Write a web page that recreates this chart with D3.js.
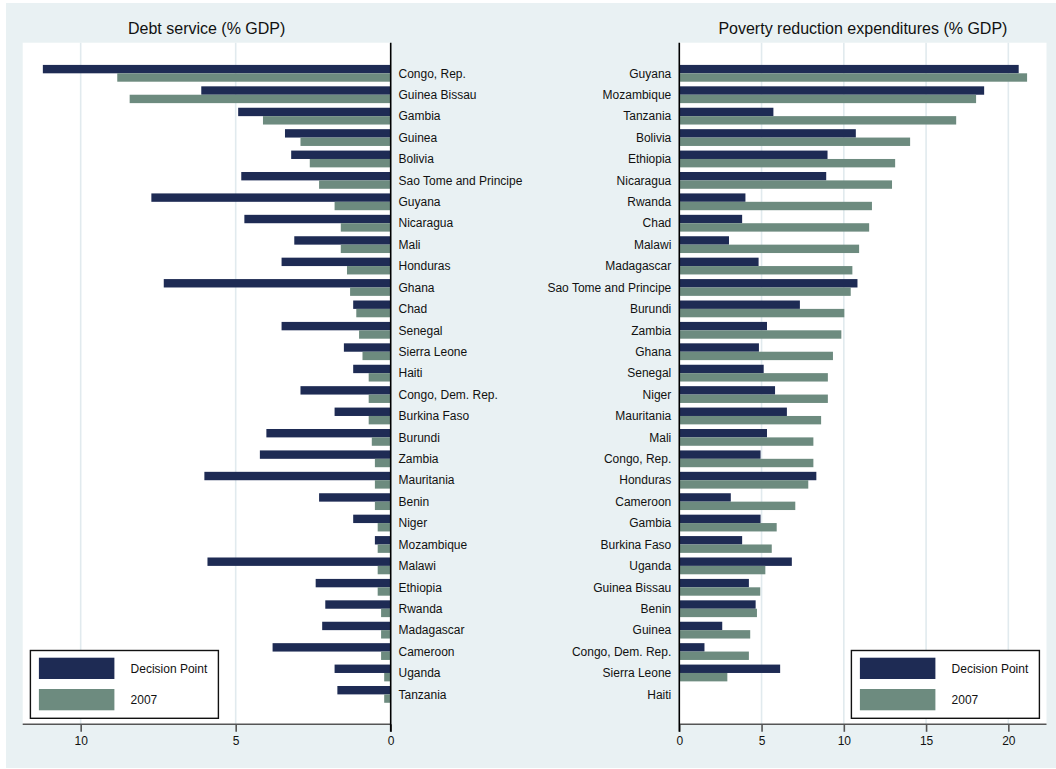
<!DOCTYPE html>
<html>
<head>
<meta charset="utf-8">
<script src="https://cdn.jsdelivr.net/npm/d3@7"></script>
<style>
  html, body { margin: 0; padding: 0; background: #ffffff; }
  svg { display: block; }
  text { font-family: "Liberation Sans", Arial, sans-serif; }
</style>
</head>
<body>
<svg id="chart" width="1056" height="769"></svg>
<script>
// ---------------- DATA ----------------
const seriesNames = ["Decision Point", "2007"];

const debtCountries = ["Congo, Rep.", "Guinea Bissau", "Gambia", "Guinea", "Bolivia",
  "Sao Tome and Principe", "Guyana", "Nicaragua", "Mali", "Honduras", "Ghana", "Chad",
  "Senegal", "Sierra Leone", "Haiti", "Congo, Dem. Rep.", "Burkina Faso", "Burundi",
  "Zambia", "Mauritania", "Benin", "Niger", "Mozambique", "Malawi", "Ethiopia", "Rwanda",
  "Madagascar", "Cameroon", "Uganda", "Tanzania"];
const debtDecision = [11.22, 6.11, 4.92, 3.41, 3.21, 4.82, 7.72, 4.72, 3.11, 3.52, 7.32, 1.21,
  3.52, 1.51, 1.21, 2.91, 1.81, 4.01, 4.22, 6.01, 2.31, 1.21, 0.51, 5.91, 2.42, 2.11,
  2.21, 3.81, 1.81, 1.72];
const debt2007 = [8.82, 8.42, 4.12, 2.91, 2.61, 2.31, 1.81, 1.61, 1.61, 1.41, 1.31, 1.11,
  1.02, 0.91, 0.71, 0.71, 0.71, 0.61, 0.51, 0.51, 0.51, 0.42, 0.42, 0.42, 0.42, 0.31,
  0.31, 0.31, 0.21, 0.21];

const prCountries = ["Guyana", "Mozambique", "Tanzania", "Bolivia", "Ethiopia", "Nicaragua",
  "Rwanda", "Chad", "Malawi", "Madagascar", "Sao Tome and Principe", "Burundi", "Zambia",
  "Ghana", "Senegal", "Niger", "Mauritania", "Mali", "Congo, Rep.", "Honduras", "Cameroon",
  "Gambia", "Burkina Faso", "Uganda", "Guinea Bissau", "Benin", "Guinea",
  "Congo, Dem. Rep.", "Sierra Leone", "Haiti"];
const prDecision = [20.63, 18.53, 5.72, 10.73, 9.01, 8.93, 4.02, 3.82, 3.02, 4.82, 10.83,
  7.33, 5.33, 4.84, 5.13, 5.82, 6.54, 5.33, 4.94, 8.33, 3.13, 4.94, 3.82, 6.84, 4.23,
  4.64, 2.61, 1.53, 6.13, null];
const pr2007 = [21.14, 18.04, 16.83, 14.03, 13.12, 12.93, 11.71, 11.54, 10.93, 10.52, 10.42,
  10.03, 9.85, 9.34, 9.03, 9.03, 8.62, 8.15, 8.15, 7.84, 7.05, 5.92, 5.62, 5.23, 4.92,
  4.72, 4.31, 4.23, 2.92, null];

const debtTicks = [0, 5, 10];
const prTicks = [0, 5, 10, 15, 20];

const debtTitle = "Debt service (% GDP)";
const prTitle = "Poverty reduction expenditures (% GDP)";

// ---------------- STYLE / LAYOUT ----------------
const colors = { "Decision Point": "#1e2b54", "2007": "#6d8b7f" };
const bgColor = "#e9f1f3";
const gridColor = "#e1eaee";
const plotTop = 42.7, plotBottom = 724.3;

const svg = d3.select("#chart");

// graph background
svg.append("rect").attr("x", 6).attr("y", 3).attr("width", 1050).attr("height", 765)
  .attr("fill", bgColor);

function drawPanel(opts) {
  const { countries, decision, y2007, ticks, title, x0, x1, dmax, side, legendX } = opts;
  const x = d3.scaleLinear().domain([0, dmax]).range([x0, x1]);
  const y = d3.scaleBand().domain(countries).range([62.6, 705.1])
    .paddingInner(0.216).paddingOuter(0.108);
  const ySub = d3.scaleBand().domain(seriesNames).range([0, y.bandwidth()]);

  const left = Math.min(x0, x1), right = Math.max(x0, x1);
  const g = svg.append("g");

  // plot region
  g.append("rect").attr("x", left).attr("y", plotTop)
    .attr("width", right - left).attr("height", plotBottom - plotTop).attr("fill", "#ffffff");

  // grid lines
  g.selectAll("line.grid").data(ticks.filter(t => t !== 0)).enter().append("line")
    .attr("class", "grid")
    .attr("x1", d => x(d)).attr("x2", d => x(d))
    .attr("y1", plotTop).attr("y2", plotBottom)
    .attr("stroke", gridColor).attr("stroke-width", 1.6);

  // bars
  const rows = countries.map((c, i) => ({ c, vals: [decision[i], y2007[i]] }));
  const bars = [];
  rows.forEach(r => r.vals.forEach((v, j) => { if (v != null) bars.push({ c: r.c, s: seriesNames[j], v }); }));
  g.selectAll("rect.bar").data(bars).enter().append("rect")
    .attr("class", "bar")
    .attr("x", d => Math.min(x(0), x(d.v)))
    .attr("width", d => Math.abs(x(d.v) - x(0)))
    .attr("y", d => y(d.c) + ySub(d.s))
    .attr("height", ySub.bandwidth())
    .attr("fill", d => colors[d.s]);

  // bottom axis
  const axis = d3.axisBottom(x).tickValues(ticks).tickSize(7.5).tickPadding(5)
    .tickFormat(d3.format("d"));
  const ax = g.append("g").attr("transform", `translate(0,${plotBottom})`).call(axis);
  ax.select(".domain").attr("stroke", "#555555").attr("stroke-width", 1.6)
    .attr("d", `M${left},0H${right}`);
  ax.selectAll(".tick line").attr("stroke", "#555555").attr("stroke-width", 1.6);
  ax.selectAll(".tick text").attr("font-size", 12).attr("fill", "#111111")
    .attr("font-family", "Liberation Sans, Arial, sans-serif");

  // category axis line at zero
  g.append("line").attr("x1", x(0)).attr("x2", x(0))
    .attr("y1", plotTop).attr("y2", plotBottom + 7.5)
    .attr("stroke", "#000000").attr("stroke-width", 1.6);

  // category labels
  g.selectAll("text.cat").data(countries).enter().append("text")
    .attr("class", "cat")
    .attr("x", side === "right" ? x(0) + 7.8 : x(0) - 8)
    .attr("y", d => y(d) + y.bandwidth() / 2)
    .attr("dy", "0.35em")
    .attr("text-anchor", side === "right" ? "start" : "end")
    .attr("font-size", 12).attr("fill", "#111111")
    .text(d => d);

  // title
  g.append("text").attr("x", (left + right) / 2).attr("y", 34)
    .attr("text-anchor", "middle").attr("font-size", 16).attr("fill", "#111111")
    .text(title);

  // legend
  const lg = g.append("g").attr("transform", `translate(${legendX},650.5)`);
  lg.append("rect").attr("x", 0).attr("y", 0).attr("width", 188).attr("height", 67.8)
    .attr("fill", "#ffffff").attr("stroke", "#111111").attr("stroke-width", 1.4);
  const items = lg.selectAll("g.item").data(seriesNames).enter().append("g")
    .attr("class", "item")
    .attr("transform", (d, i) => `translate(0,${7.2 + i * 31.3})`);
  items.append("rect").attr("x", 8.5).attr("y", 0).attr("width", 75.5).attr("height", 21.3)
    .attr("fill", d => colors[d]);
  items.append("text").attr("x", 100.2).attr("y", 10.7).attr("dy", "0.35em")
    .attr("font-size", 12).attr("fill", "#111111").text(d => d);
}

drawPanel({
  countries: debtCountries, decision: debtDecision, y2007: debt2007, ticks: debtTicks,
  title: debtTitle, x0: 390.7, x1: 22.7, dmax: 11.87, side: "right", legendX: 30.4
});
drawPanel({
  countries: prCountries, decision: prDecision, y2007: pr2007, ticks: prTicks,
  title: prTitle, x0: 679.3, x1: 1046.5, dmax: 22.32, side: "left", legendX: 851.4
});
</script>
</body>
</html>
